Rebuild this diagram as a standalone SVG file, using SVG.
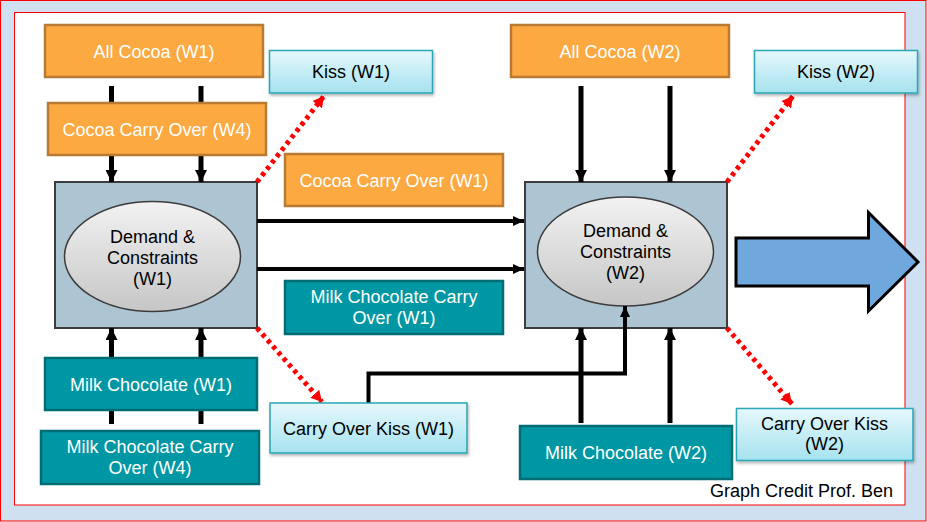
<svg xmlns="http://www.w3.org/2000/svg" width="927" height="522" viewBox="0 0 927 522">
<defs>
<style>
.txt{font-family:"Liberation Sans",Arial,sans-serif;font-size:18px;text-anchor:middle}
.w{fill:#ffffff}
.k{fill:#000000}
.orange{fill:#fba940;stroke:#b97b34;stroke-width:2.5}
.teal{fill:#0097a4;stroke:#006d75;stroke-width:2.5}
.cyan{fill:url(#cyanGrad);stroke:#2aa6b4;stroke-width:1.5;filter:url(#shadow)}
.dc{fill:#adc5d3;stroke:#3c3c3c;stroke-width:2}
.ell{fill:url(#ellGrad);stroke:#3c3c3c;stroke-width:1.5}
.bar{stroke:#000;stroke-width:5;fill:none}
.thin{stroke:#000;stroke-width:4;fill:none}
.dot{stroke:#ff0000;stroke-width:5;stroke-dasharray:4 4;fill:none}
</style>
<linearGradient id="cyanGrad" x1="0" y1="0" x2="0" y2="1">
<stop offset="0" stop-color="#e6f8fc"/>
<stop offset="1" stop-color="#a5e2ef"/>
</linearGradient>
<linearGradient id="ellGrad" x1="0" y1="0" x2="0" y2="1">
<stop offset="0" stop-color="#f2f2f2"/>
<stop offset="1" stop-color="#c6c6c6"/>
</linearGradient>
<filter id="shadow" x="-10%" y="-10%" width="120%" height="130%">
<feDropShadow dx="1" dy="2" stdDeviation="1.5" flood-color="#000" flood-opacity="0.3"/>
</filter>
<marker id="ah" markerUnits="userSpaceOnUse" markerWidth="12" markerHeight="12" viewBox="0 0 12 12" refX="12" refY="6" orient="auto">
<path d="M0,0 L12,6 L0,12 Z" fill="#000"/>
</marker>
<marker id="ahs" markerUnits="userSpaceOnUse" markerWidth="11" markerHeight="10" viewBox="0 0 11 10" refX="11" refY="5" orient="auto">
<path d="M0,0 L11,5 L0,10 Z" fill="#000"/>
</marker>
<marker id="ahr" markerUnits="userSpaceOnUse" markerWidth="11" markerHeight="12" viewBox="0 0 11 12" refX="11" refY="6" orient="auto">
<path d="M0,0 L11,6 L0,12 Z" fill="#ff0000"/>
</marker>
</defs>

<rect x="0.5" y="0.5" width="925.5" height="520.5" fill="#cfe1f1" stroke="#ff0000" stroke-width="1"/>
<rect x="14.5" y="12.5" width="890.5" height="492.5" fill="#ffffff" stroke="#ff0000" stroke-width="1"/>

<g id="node-demand-w1">
<rect class="dc" x="55" y="182" width="202" height="146"/>
<ellipse class="ell" cx="152.5" cy="256.5" rx="88" ry="55"/>
<text class="txt k" x="152.5" y="243">Demand &amp;</text>
<text class="txt k" x="152.5" y="264">Constraints</text>
<text class="txt k" x="152.5" y="285">(W1)</text>
</g>
<g id="node-demand-w2">
<rect class="dc" x="525" y="182" width="202" height="146"/>
<ellipse class="ell" cx="625.5" cy="251.5" rx="88" ry="54.5"/>
<text class="txt k" x="625.5" y="237">Demand &amp;</text>
<text class="txt k" x="625.5" y="258">Constraints</text>
<text class="txt k" x="625.5" y="279">(W2)</text>
</g>

<g id="connectors">
<line class="bar" x1="111.5" y1="86" x2="111.5" y2="103"/>
<line class="bar" x1="201" y1="86" x2="201" y2="103"/>
<line class="bar" x1="111.5" y1="155" x2="111.5" y2="182" marker-end="url(#ah)"/>
<line class="bar" x1="201" y1="155" x2="201" y2="182" marker-end="url(#ah)"/>
<line class="bar" x1="111.5" y1="424" x2="111.5" y2="410"/>
<line class="bar" x1="201" y1="424" x2="201" y2="410"/>
<line class="bar" x1="111.5" y1="358" x2="111.5" y2="328" marker-end="url(#ah)"/>
<line class="bar" x1="201" y1="358" x2="201" y2="328" marker-end="url(#ah)"/>
<line class="bar" x1="581" y1="86" x2="581" y2="182" marker-end="url(#ah)"/>
<line class="bar" x1="670" y1="86" x2="670" y2="182" marker-end="url(#ah)"/>
<line class="bar" x1="581" y1="423" x2="581" y2="328" marker-end="url(#ah)"/>
<line class="bar" x1="670" y1="423" x2="670" y2="328" marker-end="url(#ah)"/>
<line class="thin" x1="257" y1="221" x2="524" y2="221" marker-end="url(#ahs)"/>
<line class="thin" x1="257" y1="269" x2="524" y2="269" marker-end="url(#ahs)"/>
<path class="thin" d="M368.5,403 V373.5 H625 V306" marker-end="url(#ahs)"/>
<line class="dot" x1="257" y1="182" x2="324" y2="96" marker-end="url(#ahr)"/>
<line class="dot" x1="257" y1="328" x2="322" y2="402" marker-end="url(#ahr)"/>
<line class="dot" x1="727" y1="182" x2="793" y2="96" marker-end="url(#ahr)"/>
<line class="dot" x1="727" y1="328" x2="792" y2="404" marker-end="url(#ahr)"/>
</g>

<g id="node-all-cocoa-w1">
<rect class="orange" x="45" y="25" width="218" height="52"/>
<text class="txt w" x="154" y="58">All Cocoa (W1)</text>
</g>
<g id="node-kiss-w1">
<rect class="cyan" x="269.5" y="50.5" width="163" height="42.5"/>
<text class="txt k" x="351" y="78">Kiss (W1)</text>
</g>
<g id="node-cocoa-carry-w4">
<rect class="orange" x="48" y="103" width="218" height="52"/>
<text class="txt w" x="157" y="136">Cocoa Carry Over (W4)</text>
</g>
<g id="node-cocoa-carry-w1">
<rect class="orange" x="285" y="154" width="218" height="52"/>
<text class="txt w" x="394" y="187">Cocoa Carry Over (W1)</text>
</g>
<g id="node-all-cocoa-w2">
<rect class="orange" x="511" y="25" width="218" height="52"/>
<text class="txt w" x="620" y="58">All Cocoa (W2)</text>
</g>
<g id="node-kiss-w2">
<rect class="cyan" x="754.5" y="50.5" width="163" height="42.5"/>
<text class="txt k" x="836" y="78">Kiss (W2)</text>
</g>
<g id="node-milk-carry-w1">
<rect class="teal" x="285" y="281" width="218" height="53"/>
<text class="txt w" x="394" y="303">Milk Chocolate Carry</text>
<text class="txt w" x="394" y="324">Over (W1)</text>
</g>
<g id="node-milk-w1">
<rect class="teal" x="45" y="358" width="212" height="52"/>
<text class="txt w" x="151" y="391">Milk Chocolate (W1)</text>
</g>
<g id="node-milk-carry-w4">
<rect class="teal" x="41" y="431" width="218" height="53"/>
<text class="txt w" x="150" y="453">Milk Chocolate Carry</text>
<text class="txt w" x="150" y="474">Over (W4)</text>
</g>
<g id="node-carry-kiss-w1">
<rect class="cyan" x="270" y="403" width="197" height="50"/>
<text class="txt k" x="368.5" y="435">Carry Over Kiss (W1)</text>
</g>
<g id="node-milk-w2">
<rect class="teal" x="520" y="426" width="212" height="53"/>
<text class="txt w" x="626" y="459">Milk Chocolate (W2)</text>
</g>
<g id="node-carry-kiss-w2">
<rect class="cyan" x="736.5" y="408.5" width="176.5" height="52"/>
<text class="txt k" x="824.5" y="430">Carry Over Kiss</text>
<text class="txt k" x="824.5" y="450">(W2)</text>
</g>
<g id="node-big-arrow">
<path d="M736,238 H868.5 V212.5 L918,262 L868.5,311 V286 H736 Z" fill="#6fa8dc" stroke="#000" stroke-width="3" stroke-linejoin="miter"/>
</g>
<text class="txt k" x="893" y="497" style="text-anchor:end">Graph Credit Prof. Ben</text>
</svg>
